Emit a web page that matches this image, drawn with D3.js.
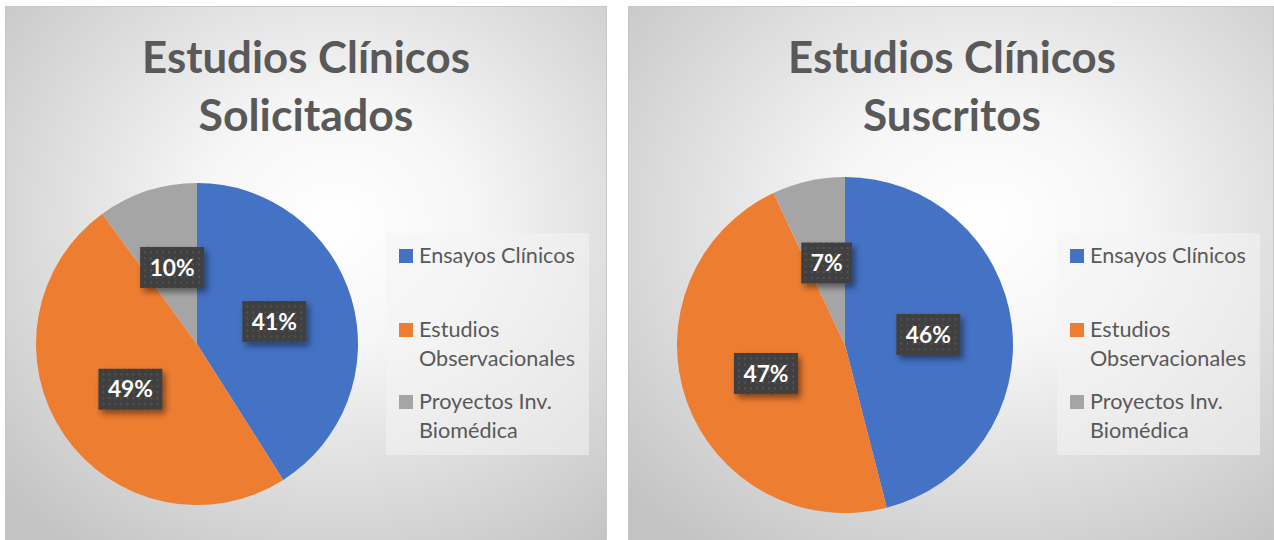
<!DOCTYPE html>
<html>
<head>
<meta charset="utf-8">
<script src="https://cdn.jsdelivr.net/npm/d3@7"></script>
<style>
  html, body { margin: 0; padding: 0; background: #ffffff; }
  svg { display: block; }
</style>
</head>
<body>
<svg id="chart" width="1274" height="540"></svg>
<script>
// ---- data ----
const categories = ["Ensayos Clínicos", "Estudios Observacionales", "Proyectos Inv. Biomédica"];
const legendLines = [["Ensayos Clínicos"], ["Estudios", "Observacionales"], ["Proyectos Inv.", "Biomédica"]];
const colors = ["#4472C4", "#ED7D31", "#A5A5A5"];
const titleSolicitados = ["Estudios Clínicos", "Solicitados"];
const valuesSolicitados = [41, 49, 10];
const titleSuscritos = ["Estudios Clínicos", "Suscritos"];
const valuesSuscritos = [46, 47, 7];

const svg = d3.select("#chart");
const defs = svg.append("defs");

const grad = defs.append("radialGradient").attr("id", "bg")
  .attr("cx", "55%").attr("cy", "40%").attr("r", "75%");
grad.append("stop").attr("offset", "0%").attr("stop-color", "#ffffff");
grad.append("stop").attr("offset", "30%").attr("stop-color", "#f6f6f6");
grad.append("stop").attr("offset", "100%").attr("stop-color", "#c3c3c3");

const pat = defs.append("pattern").attr("id", "dots")
  .attr("width", 6).attr("height", 6).attr("patternUnits", "userSpaceOnUse");
pat.append("rect").attr("width", 6).attr("height", 6).attr("fill", "#3f3f3f");
pat.append("rect").attr("x", 2).attr("y", 2).attr("width", 2).attr("height", 2).attr("fill", "#535353");

const sh = defs.append("filter").attr("id", "shadow")
  .attr("x", "-30%").attr("y", "-30%").attr("width", "170%").attr("height", "180%");
sh.append("feDropShadow").attr("dx", 3).attr("dy", 4).attr("stdDeviation", 3)
  .attr("flood-color", "#000").attr("flood-opacity", 0.45);

const FONT = "Lato, 'Open Sans', sans-serif";

function fitSize(text, weight, targetWidth, startSize) {
  const t = svg.append("text").text(text).attr("font-family", FONT)
    .attr("font-weight", weight).attr("font-size", startSize);
  const w = t.node().getComputedTextLength();
  t.remove();
  return startSize * targetWidth / w;
}

const legendSize = fitSize("Ensayos Clínicos", "normal", 156, 20);
const labelSize = fitSize("41%", "bold", 45, 22);

function drawPanel(cfg) {
  const g = svg.append("g");
  g.append("rect").attr("x", cfg.x + 0.5).attr("y", cfg.y + 0.5)
    .attr("width", cfg.w - 1).attr("height", cfg.h)
    .attr("fill", "url(#bg)").attr("stroke", "#c8c8c8");

  // title
  cfg.title.forEach((t, i) => {
    g.append("text").text(t)
      .attr("x", cfg.titleX).attr("y", 73 + i * 58)
      .attr("text-anchor", "middle")
      .attr("font-family", FONT)
      .attr("font-weight", "bold").attr("fill", "#595959")
      .attr("font-size", fitSize(t, "bold", cfg.titleWidths[i], 42));
  });

  // pie
  const pie = d3.pie().sort(null).value(d => d);
  const arcs = pie(cfg.values);
  const arc = d3.arc().innerRadius(0).outerRadius(cfg.r);
  const lblArc = d3.arc().innerRadius(cfg.r * cfg.lblFrac).outerRadius(cfg.r * cfg.lblFrac);
  const pg = g.append("g").attr("transform", `translate(${cfg.cx},${cfg.cy})`);
  pg.selectAll("path").data(arcs).join("path")
    .attr("d", arc).attr("fill", (d, i) => colors[i]);

  // labels
  arcs.forEach((d, i) => {
    const [lx, ly] = lblArc.centroid(d);
    const lg = pg.append("g").attr("transform", `translate(${lx},${ly})`);
    const rect = lg.append("rect").attr("fill", "url(#dots)").attr("filter", "url(#shadow)");
    const t = lg.append("text").text(d.data + "%")
      .attr("text-anchor", "middle").attr("dy", "0.36em")
      .attr("font-family", FONT)
      .attr("font-weight", "bold").attr("font-size", labelSize).attr("fill", "#ffffff");
    const w = t.node().getComputedTextLength();
    rect.attr("x", -w / 2 - 9.5).attr("y", -20.5).attr("width", w + 19).attr("height", 41);
  });

  // legend
  const lg = g.append("g");
  lg.append("rect").attr("x", cfg.legX).attr("y", 233).attr("width", 203).attr("height", 222)
    .attr("fill", "#f4f4f4").attr("fill-opacity", 0.55);
  const rowY = [263, 337, 409];
  categories.forEach((c, i) => {
    lg.append("rect").attr("x", cfg.legX + 13).attr("y", rowY[i] - 14)
      .attr("width", 14).attr("height", 14).attr("fill", colors[i]);
    legendLines[i].forEach((line, j) => {
      lg.append("text").text(line)
        .attr("x", cfg.legX + 33).attr("y", rowY[i] + j * 29)
        .attr("font-family", FONT)
        .attr("font-size", legendSize).attr("fill", "#595959");
    });
  });
}

drawPanel({
  x: 5, y: 6, w: 602, h: 540,
  title: titleSolicitados, titleX: 306, titleWidths: [328, 215],
  values: valuesSolicitados, cx: 197, cy: 344, r: 161, lblFrac: 0.5,
  legX: 386
});
drawPanel({
  x: 628, y: 6, w: 646, h: 540,
  title: titleSuscritos, titleX: 952, titleWidths: [328, 178],
  values: valuesSuscritos, cx: 845, cy: 345, r: 168, lblFrac: 0.5,
  legX: 1057
});
</script>
</body>
</html>
